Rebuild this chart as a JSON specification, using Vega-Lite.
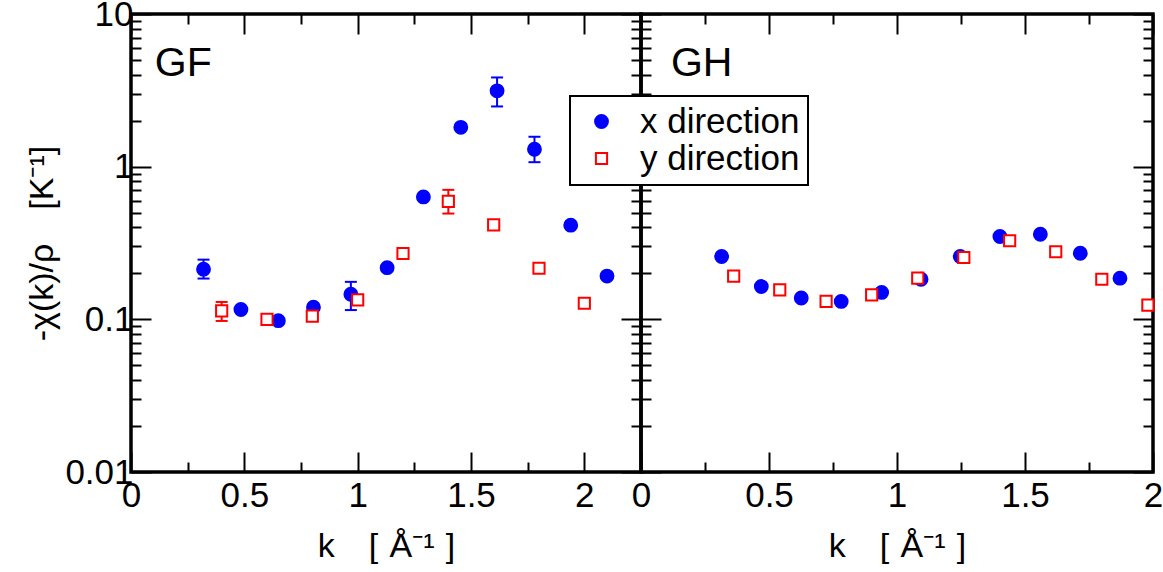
{
  "$schema": "https://vega.github.io/schema/vega-lite/v6.json",
  "background": "white",
  "padding": {"left": 24, "top": -5, "right": 2, "bottom": 4},
  "spacing": 0,
  "bounds": "flush",
  "datasets": {
    "pts": [
      {"panel": "GF", "dir": "x direction", "k": 0.32, "v": 0.213, "lo": 0.185, "hi": 0.246},
      {"panel": "GF", "dir": "x direction", "k": 0.485, "v": 0.116},
      {"panel": "GF", "dir": "x direction", "k": 0.65, "v": 0.098},
      {"panel": "GF", "dir": "x direction", "k": 0.805, "v": 0.12},
      {"panel": "GF", "dir": "x direction", "k": 0.97, "v": 0.146, "lo": 0.115, "hi": 0.176},
      {"panel": "GF", "dir": "x direction", "k": 1.13, "v": 0.218},
      {"panel": "GF", "dir": "x direction", "k": 1.29, "v": 0.634},
      {"panel": "GF", "dir": "x direction", "k": 1.455, "v": 1.81},
      {"panel": "GF", "dir": "x direction", "k": 1.615, "v": 3.14, "lo": 2.48, "hi": 3.84},
      {"panel": "GF", "dir": "x direction", "k": 1.78, "v": 1.3, "lo": 1.07, "hi": 1.57},
      {"panel": "GF", "dir": "x direction", "k": 1.94, "v": 0.414},
      {"panel": "GF", "dir": "x direction", "k": 2.1, "v": 0.192},
      {"panel": "GF", "dir": "y direction", "k": 0.4, "v": 0.1135, "lo": 0.0976, "hi": 0.13},
      {"panel": "GF", "dir": "y direction", "k": 0.6, "v": 0.1},
      {"panel": "GF", "dir": "y direction", "k": 0.8, "v": 0.105},
      {"panel": "GF", "dir": "y direction", "k": 1.0, "v": 0.134},
      {"panel": "GF", "dir": "y direction", "k": 1.2, "v": 0.27},
      {"panel": "GF", "dir": "y direction", "k": 1.4, "v": 0.592, "lo": 0.493, "hi": 0.705},
      {"panel": "GF", "dir": "y direction", "k": 1.6, "v": 0.416},
      {"panel": "GF", "dir": "y direction", "k": 1.8, "v": 0.216},
      {"panel": "GF", "dir": "y direction", "k": 2.0, "v": 0.1275},
      {"panel": "GH", "dir": "x direction", "k": 0.315, "v": 0.258},
      {"panel": "GH", "dir": "x direction", "k": 0.47, "v": 0.164},
      {"panel": "GH", "dir": "x direction", "k": 0.626, "v": 0.138},
      {"panel": "GH", "dir": "x direction", "k": 0.782, "v": 0.131},
      {"panel": "GH", "dir": "x direction", "k": 0.94, "v": 0.15},
      {"panel": "GH", "dir": "x direction", "k": 1.094, "v": 0.183},
      {"panel": "GH", "dir": "x direction", "k": 1.247, "v": 0.258},
      {"panel": "GH", "dir": "x direction", "k": 1.402, "v": 0.349},
      {"panel": "GH", "dir": "x direction", "k": 1.56, "v": 0.361},
      {"panel": "GH", "dir": "x direction", "k": 1.716, "v": 0.271},
      {"panel": "GH", "dir": "x direction", "k": 1.871, "v": 0.186},
      {"panel": "GH", "dir": "y direction", "k": 0.362, "v": 0.192},
      {"panel": "GH", "dir": "y direction", "k": 0.542, "v": 0.156},
      {"panel": "GH", "dir": "y direction", "k": 0.723, "v": 0.131},
      {"panel": "GH", "dir": "y direction", "k": 0.901, "v": 0.1445},
      {"panel": "GH", "dir": "y direction", "k": 1.081, "v": 0.186},
      {"panel": "GH", "dir": "y direction", "k": 1.261, "v": 0.254},
      {"panel": "GH", "dir": "y direction", "k": 1.44, "v": 0.327},
      {"panel": "GH", "dir": "y direction", "k": 1.62, "v": 0.277},
      {"panel": "GH", "dir": "y direction", "k": 1.8, "v": 0.183},
      {"panel": "GH", "dir": "y direction", "k": 1.98, "v": 0.124}
    ]
  },
  "hconcat": [
    {
      "width": 510,
      "height": 458,
      "data": {"name": "pts"},
      "transform": [{"filter": "datum.panel == 'GF'"}],
      "layer": [
        {
          "transform": [{"filter": "isValid(datum.lo)"}],
          "mark": {"type": "rule", "strokeWidth": 2},
          "encoding": {
            "x": {"field": "k", "type": "quantitative", "scale": {"domain": [0, 2.25], "nice": false, "zero": false},
              "axis": {"orient": "top", "values": [0, 0.25, 0.5, 0.75, 1, 1.25, 1.5, 1.75, 2], "labels": false, "title": null,
                "tickSize": {"condition": {"test": "datum.value % 0.5 == 0", "value": -20}, "value": -10}}},
            "y": {"field": "lo", "type": "quantitative", "scale": {"type": "log", "domain": [0.01, 10], "nice": false},
              "axis": {"orient": "right", "values": [0.01, 0.02, 0.03, 0.04, 0.05, 0.06, 0.07, 0.08, 0.09, 0.1, 0.2, 0.3, 0.4, 0.5, 0.6, 0.7, 0.8, 0.9, 1, 2, 3, 4, 5, 6, 7, 8, 9, 10], "labels": false, "title": null,
                "tickSize": {"condition": {"test": "abs(log(datum.value)/LN10 - round(log(datum.value)/LN10)) < 0.0001", "value": -20}, "value": -10}}},
            "y2": {"field": "hi"},
            "stroke": {"field": "dir", "type": "nominal", "scale": {"domain": ["x direction", "y direction"], "range": ["#0000ff", "#ff0000"]}}
          }
        },
        {
          "transform": [{"filter": "isValid(datum.lo)"}],
          "mark": {"type": "point", "shape": "stroke", "size": 144, "strokeWidth": 2, "opacity": 1},
          "encoding": {
            "x": {"field": "k", "type": "quantitative", "axis": null},
            "y": {"field": "lo", "type": "quantitative", "axis": null},
            "stroke": {"field": "dir", "type": "nominal"}
          }
        },
        {
          "transform": [{"filter": "isValid(datum.hi)"}],
          "mark": {"type": "point", "shape": "stroke", "size": 144, "strokeWidth": 2, "opacity": 1},
          "encoding": {
            "x": {"field": "k", "type": "quantitative", "axis": null},
            "y": {"field": "hi", "type": "quantitative", "axis": null},
            "stroke": {"field": "dir", "type": "nominal"}
          }
        },
        {
          "mark": {"type": "point", "strokeWidth": 2, "opacity": 1},
          "encoding": {
            "x": {"field": "k", "type": "quantitative",
              "axis": {"orient": "bottom", "values": [0, 0.25, 0.5, 0.75, 1, 1.25, 1.5, 1.75, 2], "format": "~g", "labelFlush": false, "labelOverlap": false,
                "labelExpr": "datum.value % 0.5 == 0 ? datum.label : ''", "labelPadding": 26, "title": "k\u2002\u2002[\u2004Å⁻¹\u2004]", "titlePadding": 6,
                "tickSize": {"condition": {"test": "datum.value % 0.5 == 0", "value": -20}, "value": -10}}},
            "y": {"field": "v", "type": "quantitative",
              "axis": {"orient": "left", "values": [0.01, 0.02, 0.03, 0.04, 0.05, 0.06, 0.07, 0.08, 0.09, 0.1, 0.2, 0.3, 0.4, 0.5, 0.6, 0.7, 0.8, 0.9, 1, 2, 3, 4, 5, 6, 7, 8, 9, 10], "format": "~g", "labelOverlap": false, "labelFlush": false,
                "labelExpr": "abs(log(datum.value)/LN10 - round(log(datum.value)/LN10)) < 0.0001 ? datum.label : ''", "labelPadding": 18, "title": "-χ(k)/ρ\u2002\u2002[K⁻¹]", "titlePadding": 5,
                "tickSize": {"condition": {"test": "abs(log(datum.value)/LN10 - round(log(datum.value)/LN10)) < 0.0001", "value": -20}, "value": -10}}},
            "shape": {"field": "dir", "type": "nominal", "scale": {"domain": ["x direction", "y direction"], "range": ["circle", "square"]}},
            "stroke": {"field": "dir", "type": "nominal"},
            "fill": {"field": "dir", "type": "nominal", "scale": {"domain": ["x direction", "y direction"], "range": ["#0000ff", "#ffffff"]}},
            "size": {"field": "dir", "type": "ordinal", "scale": {"domain": ["x direction", "y direction"], "range": [165, 125]}}
          }
        },
        {
          "data": {"values": [{"label": "GF"}]},
          "mark": {"type": "text", "align": "left", "baseline": "alphabetic", "fontSize": 41, "font": "Liberation Sans", "color": "black"},
          "encoding": {
            "x": {"datum": 0.105, "type": "quantitative", "axis": null},
            "y": {"datum": 3.9, "type": "quantitative", "axis": null},
            "text": {"field": "label"}
          }
        }
      ],
      "resolve": {"axis": {"x": "independent", "y": "independent"}}
    },
    {
      "width": 512,
      "height": 458,
      "data": {"name": "pts"},
      "transform": [{"filter": "datum.panel == 'GH'"}],
      "layer": [
        {
          "mark": {"type": "point", "strokeWidth": 2, "opacity": 1},
          "encoding": {
            "x": {"field": "k", "type": "quantitative", "scale": {"domain": [0, 2], "nice": false, "zero": false},
              "axis": {"orient": "bottom", "values": [0, 0.25, 0.5, 0.75, 1, 1.25, 1.5, 1.75, 2], "format": "~g", "labelFlush": false, "labelOverlap": false,
                "labelExpr": "datum.value % 0.5 == 0 ? datum.label : ''", "labelPadding": 26, "title": "k\u2002\u2002[\u2004Å⁻¹\u2004]", "titlePadding": 6,
                "tickSize": {"condition": {"test": "datum.value % 0.5 == 0", "value": -20}, "value": -10}}},
            "y": {"field": "v", "type": "quantitative", "scale": {"type": "log", "domain": [0.01, 10], "nice": false},
              "axis": {"orient": "left", "values": [0.01, 0.02, 0.03, 0.04, 0.05, 0.06, 0.07, 0.08, 0.09, 0.1, 0.2, 0.3, 0.4, 0.5, 0.6, 0.7, 0.8, 0.9, 1, 2, 3, 4, 5, 6, 7, 8, 9, 10], "labels": false, "title": null,
                "tickSize": {"condition": {"test": "abs(log(datum.value)/LN10 - round(log(datum.value)/LN10)) < 0.0001", "value": -20}, "value": -10}}},
            "shape": {"field": "dir", "type": "nominal", "scale": {"domain": ["x direction", "y direction"], "range": ["circle", "square"]}},
            "stroke": {"field": "dir", "type": "nominal", "scale": {"domain": ["x direction", "y direction"], "range": ["#0000ff", "#ff0000"]}},
            "fill": {"field": "dir", "type": "nominal", "scale": {"domain": ["x direction", "y direction"], "range": ["#0000ff", "#ffffff"]}},
            "size": {"field": "dir", "type": "ordinal", "scale": {"domain": ["x direction", "y direction"], "range": [165, 125]}}
          }
        },
        {
          "data": {"values": [{"label": "GH"}]},
          "mark": {"type": "text", "align": "left", "baseline": "alphabetic", "fontSize": 41, "font": "Liberation Sans", "color": "black"},
          "encoding": {
            "x": {"datum": 0.117, "type": "quantitative",
              "axis": {"orient": "top", "values": [0, 0.25, 0.5, 0.75, 1, 1.25, 1.5, 1.75, 2], "labels": false, "title": null,
                "tickSize": {"condition": {"test": "datum.value % 0.5 == 0", "value": -20}, "value": -10}}},
            "y": {"datum": 3.9, "type": "quantitative",
              "axis": {"orient": "right", "values": [0.01, 0.02, 0.03, 0.04, 0.05, 0.06, 0.07, 0.08, 0.09, 0.1, 0.2, 0.3, 0.4, 0.5, 0.6, 0.7, 0.8, 0.9, 1, 2, 3, 4, 5, 6, 7, 8, 9, 10], "labels": false, "title": null,
                "tickSize": {"condition": {"test": "abs(log(datum.value)/LN10 - round(log(datum.value)/LN10)) < 0.0001", "value": -20}, "value": -10}}},
            "text": {"field": "label"}
          }
        }
      ],
      "resolve": {"axis": {"x": "independent", "y": "independent"}}
    }
  ],
  "config": {
    "font": "Liberation Sans",
    "view": {"stroke": "black", "strokeWidth": 3.5},
    "axis": {
      "grid": false,
      "domain": false,
      "ticks": true,
      "tickColor": "black",
      "tickWidth": 2,
      "labelFont": "Liberation Sans",
      "labelFontSize": 35,
      "labelColor": "black",
      "titleFont": "Liberation Sans",
      "titleFontSize": 34,
      "titleFontWeight": "normal",
      "titleColor": "black"
    },
    "legend": {
      "orient": "none",
      "legendX": 439,
      "legendY": 82,
      "title": null,
      "labelFont": "Liberation Sans",
      "labelFontSize": 35,
      "labelColor": "black",
      "symbolStrokeWidth": 2,
      "strokeColor": "black",
      "strokeWidth": 2,
      "fillColor": "white",
      "padding": 8,
      "rowPadding": 1,
      "symbolOffset": 6,
      "labelOffset": 21
    }
  }
}
